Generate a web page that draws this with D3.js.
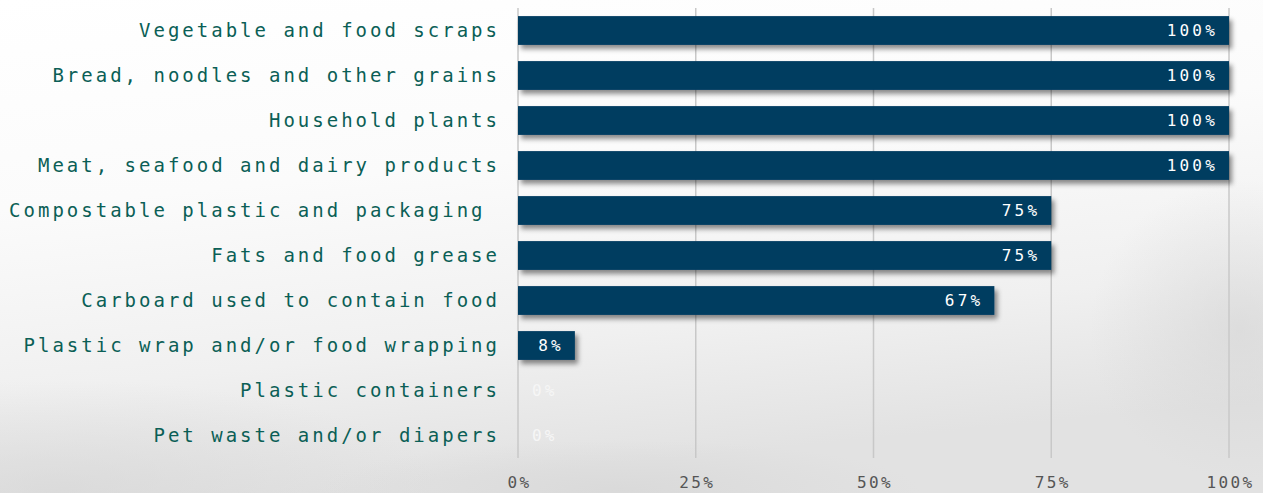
<!DOCTYPE html>
<html><head><meta charset="utf-8">
<script src="https://cdn.jsdelivr.net/npm/d3@7"></script>
<style>
html,body{margin:0;padding:0;background:#fff;}
svg{display:block;}
</style></head>
<body>
<svg id="c" width="1263" height="493"></svg>
<script>
const categories = [
  "Vegetable and food scraps",
  "Bread, noodles and other grains",
  "Household plants",
  "Meat, seafood and dairy products",
  "Compostable plastic and packaging ",
  "Fats and food grease",
  "Carboard used to contain food",
  "Plastic wrap and/or food wrapping",
  "Plastic containers",
  "Pet waste and/or diapers"
];
const values = [100, 100, 100, 100, 75, 75, 67, 8, 0, 0];
const tickValues = [0, 25, 50, 75, 100];
const tickLabels = ["0%", "25%", "50%", "75%", "100%"];

const W = 1263, H = 493;
const margin = {left: 518, right: 34, top: 8, bottom: 35};
const svg = d3.select("#c");
const defs = svg.append("defs");

// background
const bg = defs.append("linearGradient").attr("id","bg").attr("x1","0").attr("y1","0").attr("x2","0.25").attr("y2","1");
bg.append("stop").attr("offset","0").attr("stop-color","#ffffff");
bg.append("stop").attr("offset","0.4").attr("stop-color","#fbfbfb");
bg.append("stop").attr("offset","0.75").attr("stop-color","#f0f0f0");
bg.append("stop").attr("offset","1").attr("stop-color","#e2e2e2");
svg.append("rect").attr("width",W).attr("height",H).attr("fill","url(#bg)");
const rg = defs.append("radialGradient").attr("id","cl1");
rg.append("stop").attr("offset","0").attr("stop-color","#d4d4d4").attr("stop-opacity",0.6);
rg.append("stop").attr("offset","1").attr("stop-color","#d4d4d4").attr("stop-opacity",0);
svg.append("ellipse").attr("cx",60).attr("cy",490).attr("rx",380).attr("ry",110).attr("fill","url(#cl1)");
svg.append("ellipse").attr("cx",1240).attr("cy",330).attr("rx",150).attr("ry",150).attr("fill","url(#cl1)");
svg.append("ellipse").attr("cx",620).attr("cy",490).attr("rx",300).attr("ry",50).attr("fill","url(#cl1)");

const sh = defs.append("filter").attr("id","sh").attr("x","-10%").attr("y","-30%").attr("width","130%").attr("height","190%");
sh.append("feDropShadow").attr("dx",3).attr("dy",4).attr("stdDeviation",2.5).attr("flood-color","#000").attr("flood-opacity",0.45);

const x = d3.scaleLinear().domain([0,100]).range([margin.left, W - margin.right]);
const y = d3.scaleBand().domain(categories).range([margin.top, H - margin.bottom]).paddingInner(0.36).paddingOuter(0.18);

// gridlines
svg.append("g").selectAll("line").data(tickValues).join("line")
  .attr("x1", d => x(d)).attr("x2", d => x(d))
  .attr("y1", margin.top).attr("y2", H - margin.bottom)
  .attr("stroke", "#c8c8c8").attr("stroke-width", 1.5);

// x axis
const xAxis = d3.axisBottom(x).tickValues(tickValues).tickFormat((d,i) => tickLabels[i]).tickSize(0).tickPadding(0);
const gx = svg.append("g").attr("transform", `translate(0,${H - 11})`).call(xAxis);
gx.select(".domain").remove();
gx.selectAll("text").attr("fill","#555").attr("font-family","'DejaVu Sans Mono', monospace")
  .attr("font-size", 16).attr("letter-spacing", "2.4px").attr("dy", "0.35em").attr("dx","1px");

// y axis labels
const yAxis = d3.axisLeft(y).tickSize(0).tickPadding(20);
const gy = svg.append("g").attr("transform", `translate(${margin.left},0)`).call(yAxis);
gy.select(".domain").remove();
gy.selectAll("text").attr("fill","#0b5f56").attr("font-family","'DejaVu Sans Mono', monospace")
  .attr("font-size", 19).attr("letter-spacing", "3px").attr("dx","2px").attr("dy","0.34em").style("white-space","pre");

// bars
svg.append("g").selectAll("rect").data(values).join("rect")
  .attr("x", x(0)).attr("y", (d,i) => y(categories[i]))
  .attr("width", d => x(d) - x(0)).attr("height", y.bandwidth())
  .attr("fill", "#003c60").attr("filter", d => d > 0 ? "url(#sh)" : null);

// value labels
svg.append("g").selectAll("text").data(values).join("text")
  .attr("x", d => d > 0 ? x(d) - 11 : x(0) + 14)
  .attr("y", (d,i) => y(categories[i]) + y.bandwidth()/2)
  .attr("dy", "0.36em")
  .attr("text-anchor", d => d > 0 ? "end" : "start")
  .attr("fill", d => d > 0 ? "#ffffff" : "#f6f6f6")
  .attr("font-family","'DejaVu Sans Mono', monospace").attr("font-size", 16).attr("letter-spacing","3.2px")
  .text(d => d + "%");
</script>
</body></html>
